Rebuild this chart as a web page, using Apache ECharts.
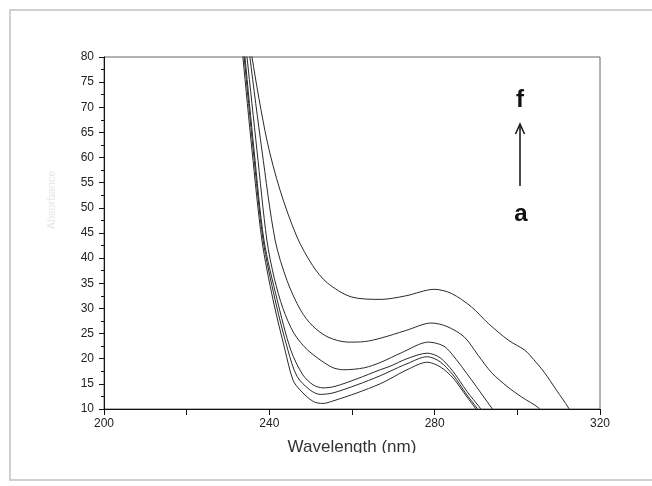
<!DOCTYPE html>
<html>
<head>
<meta charset="utf-8">
<script src="https://cdn.jsdelivr.net/npm/echarts@6/dist/echarts.min.js"></script>
<style>
html,body{margin:0;padding:0;background:#fff;}
#chart{width:652px;height:486px;}
</style>
</head>
<body>
<div id="chart"></div>
<script>
// Wavelength (nm) / absorbance pairs, curves a..f
var curveA = [[233.0,85],[233.6,80],[235.8,61.5],[238.2,43.6],[240.9,31.7],[243.8,21.7],[245.7,15.8],[247.4,13.8],[250.6,11.5],[253.0,11.1],[255.4,11.6],[261.2,13.2],[266.8,15.0],[269.2,16.0],[273.3,17.8],[278.2,19.3],[281.3,18.4],[284.4,16.2],[287.8,12.4],[289.8,10.2],[290.5,9]];
var curveB = [[233.3,85],[233.9,80],[236.1,61.5],[238.5,43.6],[241.4,31.7],[244.5,21.7],[246.7,16.5],[249.8,13.8],[252.3,12.9],[255.4,13.2],[261.2,14.8],[266.8,16.6],[269.2,17.5],[273.3,19.0],[278.2,20.4],[281.3,19.4],[284.4,16.8],[287.8,12.8],[290.2,10.2],[291.0,9]];
var curveC = [[233.5,85],[234.1,80],[236.3,61.5],[238.7,43.6],[241.9,31.7],[245.2,21.7],[248.1,16.8],[250.6,14.8],[253.0,14.2],[255.9,14.5],[261.2,16.0],[266.8,17.8],[269.2,18.5],[273.3,20.0],[278.2,21.1],[281.3,20.2],[284.4,17.5],[287.8,13.5],[291.0,10.2],[292.0,9]];
var curveD = [[234.0,85],[234.6,80],[237.0,61.5],[239.4,43.6],[241.2,36.0],[243.3,30.0],[246.0,25.0],[249.3,21.7],[254.9,18.4],[258.0,17.8],[263.0,18.2],[267.0,19.3],[272.0,21.2],[278.5,23.3],[282.0,22.6],[284.0,21.1],[288.9,15.8],[293.8,10.2],[295.0,9]];
var curveE = [[234.7,85],[235.3,80],[238.2,61.5],[241.4,43.6],[244.3,35.5],[247.6,29.6],[250.5,26.5],[254.2,24.3],[259.0,23.3],[263.0,23.4],[267.0,24.1],[273.0,25.6],[279.2,27.1],[283.0,26.4],[287.2,24.3],[290.5,20.7],[293.8,17.2],[297.5,14.5],[301.0,12.4],[305.2,10.2],[306.0,9]];
var curveF = [[235.2,85],[235.8,80],[239.4,63.5],[242.6,53.5],[246.7,44.2],[250.5,38.5],[254.0,35.1],[259.8,32.3],[267.0,31.8],[273.0,32.5],[279.9,33.8],[284.0,33.0],[288.9,30.3],[293.0,27.0],[297.8,23.7],[301.8,21.7],[304.0,19.8],[306.6,17.2],[309.5,13.7],[312.4,10.2],[313.0,9]];
var curveNames = ['a','b','c','d','e','f'];
var xTickLabels = [200, 240, 280, 320];
var xAxisTitle = 'Wavelength (nm)';
var yAxisTitle = 'Absorbance';

var allCurves = [curveA, curveB, curveC, curveD, curveE, curveF];
var chart = echarts.init(document.getElementById('chart'), null, {renderer:'canvas'});
var labelFont = {color:'#222', fontSize:12, fontFamily:'Liberation Sans, Arial, sans-serif'};

var series = allCurves.map(function(d, i){
  return {
    name: curveNames[i], type:'line', data:d, showSymbol:false, symbol:'none',
    smooth:0.3, clip:true,
    lineStyle:{color:'#2a2a2a', width:1}, emphasis:{disabled:true}, silent:true, z:3
  };
});

chart.setOption({
  animation:false,
  backgroundColor:'#ffffff',
  grid:{left:104, right:52, top:57, bottom:77, show:true, borderColor:'#666', borderWidth:1, backgroundColor:'transparent'},
  xAxis:{
    type:'value', min:200, max:320, interval:20,
    axisLine:{show:true, onZero:false, lineStyle:{color:'#111', width:1}},
    axisTick:{show:true, length:6, lineStyle:{color:'#111'}},
    splitLine:{show:false},
    axisLabel:Object.assign({margin:9, formatter:function(v){ return xTickLabels.indexOf(v) >= 0 ? String(v) : ''; }}, labelFont)
  },
  yAxis:{
    type:'value', min:10, max:80, interval:5,
    axisLine:{show:true, onZero:false, lineStyle:{color:'#111', width:1}},
    axisTick:{show:true, length:5, lineStyle:{color:'#111'}},
    minorTick:{show:true, splitNumber:2, length:3, lineStyle:{color:'#111'}},
    splitLine:{show:false},
    axisLabel:Object.assign({margin:10}, labelFont)
  },
  series: series,
  graphic:[
    {type:'rect', shape:{x:10, y:10, width:700, height:470}, style:{fill:'none', stroke:'#cfcfcf', lineWidth:2}, silent:true, z:0},
    {type:'text', x:352, y:447, style:{text:xAxisTitle, fontSize:17, fill:'#333', textAlign:'center', textVerticalAlign:'middle', fontFamily:'Liberation Sans, Arial, sans-serif'}, z:5},
    {type:'rect', shape:{x:250, y:453, width:220, height:20}, style:{fill:'#ffffff'}, z:6, silent:true},
    {type:'text', x:52, y:200, rotation:Math.PI/2, style:{text:yAxisTitle, fontSize:11, fill:'#e6e6e6', textAlign:'center', textVerticalAlign:'middle', fontFamily:'Liberation Sans, Arial, sans-serif'}, z:5},
    {type:'text', x:520, y:100, style:{text:'f', fontSize:24, fontWeight:'bold', fill:'#111', textAlign:'center', textVerticalAlign:'middle', fontFamily:'Liberation Sans, Arial, sans-serif'}, z:5},
    {type:'text', x:521, y:214, style:{text:'a', fontSize:24, fontWeight:'bold', fill:'#111', textAlign:'center', textVerticalAlign:'middle', fontFamily:'Liberation Sans, Arial, sans-serif'}, z:5},
    {type:'line', shape:{x1:520, y1:186, x2:520, y2:125}, style:{stroke:'#111', lineWidth:1.5}, z:5},
    {type:'polyline', shape:{points:[[515.5,134],[520,124],[524.5,134]]}, style:{stroke:'#111', lineWidth:1.5, fill:'none'}, z:5}
  ]
});
</script>
</body>
</html>
